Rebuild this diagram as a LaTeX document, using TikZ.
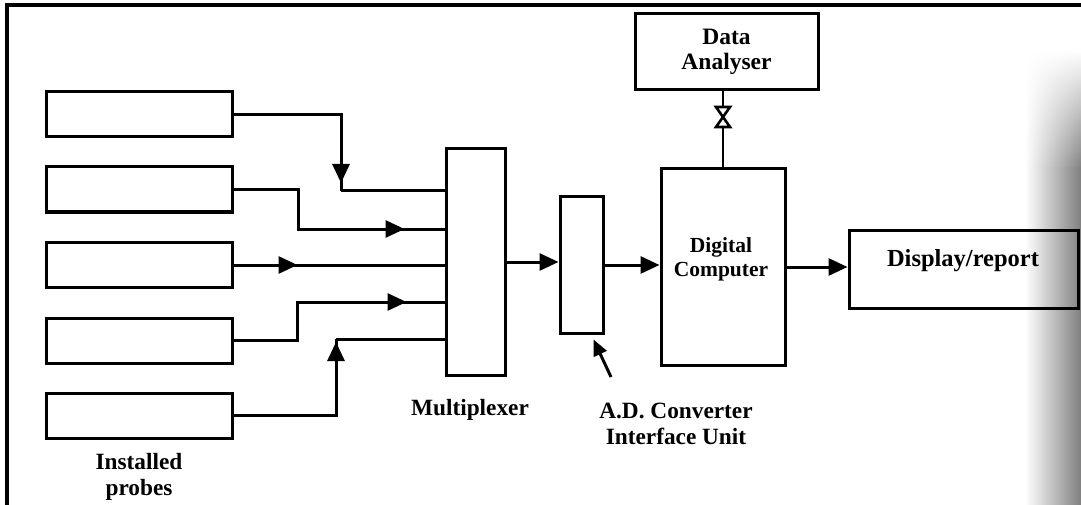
\documentclass[tikz,border=0pt]{standalone}
\usepackage{fontspec}
\setmainfont{Liberation Serif}
\usetikzlibrary{arrows.meta,decorations.markings,calc,fadings}

% soft shadow along the right edge of the page
\tikzfading[name=shadowfade, top color=transparent!100, bottom color=transparent!0]

\begin{document}
\begin{tikzpicture}[x=1pt, y=-1pt,
  box/.style={draw, line width=3pt, inner sep=0pt},
  wire/.style={line width=3pt},
  tipstyle/.style={-{Triangle[length=19pt,width=17pt]}},
  midarrow/.style={postaction={decorate},
    decoration={markings, mark=at position #1 with {\arrow{Triangle[length=19pt,width=17pt]}}}},
  lbl/.style={font=\bfseries\fontsize{23.3}{26}\selectfont, align=center, inner sep=0pt}]

\useasboundingbox (0,0) rectangle (1081,505);

% page shadow
\shade[left color=white, right color=black!50, path fading=shadowfade] (1025,50) rectangle (1081,170);
\shade[left color=white, right color=black!50] (1025,168) rectangle (1081,505);

% frame
\draw[line width=4pt] (7,505) -- (7,5) -- (1081,5);

% installed probes
\foreach \i/\y in {1/114.5,2/189.5,3/265,4/340.5,5/415.5}
  \node[box, minimum width=186pt, minimum height=45pt] (p\i) at (139,\y) {};

% main blocks
\node[box, minimum width=59pt, minimum height=226pt] (mux) at (475.5,262) {};
\node[box, minimum width=43pt, minimum height=136pt] (adc) at (581.5,265) {};
\node[box, minimum width=124pt, minimum height=196pt] (dc) at (723,267) {};
\node[box, minimum width=183pt, minimum height=76pt, font=\bfseries\fontsize{23.5}{25}\selectfont, align=center] (da) at (726.5,52) {Data\\Analyser};
\node[box, minimum width=229pt, minimum height=78pt] (disp) at (963.5,269) {};

% labels
\node[lbl] (tprobes) at (139,477) {Installed\\probes};
\node[lbl, anchor=base] (tmux) at (470,415) {Multiplexer};
\node[lbl] (tadc) at (676,424) {A.D. Converter\\Interface Unit};
\node[lbl, font=\bfseries\fontsize{21.5}{24}\selectfont] (tdc) at (721,259) {Digital\\Computer};
\node[lbl, font=\bfseries\fontsize{24.5}{28}\selectfont] (tdisp) at (963,261) {Display/report};

% junction points of the probe lines
\coordinate (j1) at (341,191);
\coordinate (j2) at (298,229);
\coordinate (j4) at (297,302);
\coordinate (j5) at (336,339);

% probe lines into the multiplexer
\draw[wire, midarrow=-8pt] (p1.east) -| (j1);
\draw[wire] (j1) -- (j1 -| mux.west);
\draw[wire, midarrow=-40pt] (p2.east) -| (j2) -- (j2 -| mux.west);
\draw[wire, midarrow=64pt] (p3.east) -- (p3.east -| mux.west);
\draw[wire, midarrow=-38pt] (p4.east) -| (j4) -- (j4 -| mux.west);
\draw[wire, midarrow=-3pt] (p5.east) -| (j5);
\draw[wire] (j5) -- (j5 -| mux.west);

% signal chain
\draw[wire, tipstyle] (mux.east) -- (mux.east -| adc.west);
\draw[wire, tipstyle] (adc.east) -- (adc.east -| dc.west);
\draw[wire, tipstyle] (dc.east) -- (dc.east -| disp.west);

% link to the data analyser with its hourglass symbol
\coordinate (hgt) at (723,107);
\coordinate (hgb) at (723,127);
\draw[wire, line width=2.2pt] (hgt |- da.south) -- (hgt);
\draw[wire, line width=2.2pt] (hgb) -- (hgb |- dc.north);
\draw[line width=2.6pt, line join=miter]
  ($(hgt)+(-7,0)$) -- ($(hgt)+(7,0)$) -- ($(hgb)+(-7,0)$) -- ($(hgb)+(7,0)$) -- cycle;

% pointer to the converter
\coordinate (ptr) at (611,377);
\draw[wire, -{Triangle[length=16pt,width=14pt]}] (ptr) -- ($(adc.south east)+(-11,5)$);

\end{tikzpicture}
\end{document}
